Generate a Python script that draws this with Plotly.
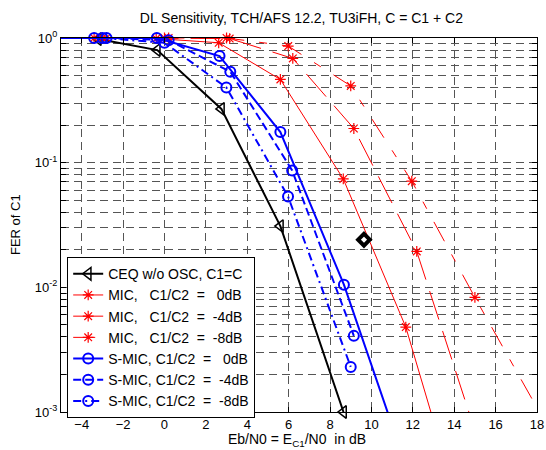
import plotly.graph_objects as go

# CEQ reference curve
ceq_x = [-3.2, -0.35, 2.75, 5.6, 8.65]
ceq_y = [0.98, 0.80, 0.27, 0.031, 0.001]

# MIC curves (red)
mic0_x = [-3.4, -0.4, 2.62, 5.6, 8.64, 11.66, 14.65]
mic0_y = [1.0, 0.99, 0.916, 0.465, 0.074, 0.0048, 0.0001]
mic4_x = [-2.8, 0.2, 3.15, 6.2, 9.15, 12.19, 15.2]
mic4_y = [1.0, 1.0, 0.99, 0.686, 0.188, 0.0194, 0.00056]
mic8_x = [-3.0, 0.0, 3.0, 5.98, 9.0, 11.95, 15.0, 18.03]
mic8_y = [1.0, 1.0, 1.0, 0.862, 0.413, 0.071, 0.0083, 0.00106]

# S-MIC curves (blue)
smic0_x = [-6.4, -3.4, -0.37, 2.66, 5.6, 8.67, 11.67]
smic0_y = [1.0, 1.0, 1.0, 0.716, 0.176, 0.0105, 0.00037]
smic4_x = [-2.8, 0.2, 3.18, 6.17, 9.15]
smic4_y = [1.0, 0.96, 0.536, 0.0867, 0.00408]
smic8_x = [-3.0, 0.0, 2.99, 5.97, 9.0]
smic8_y = [1.0, 0.916, 0.401, 0.0536, 0.0023]

# single reference point
diam_x = [9.64]
diam_y = [0.0241]

x_ticks = [-4, -2, 0, 2, 4, 6, 8, 10, 12, 14, 16, 18]
y_ticks = [m * 10.0 ** e for e in (-3, -2, -1) for m in range(1, 10)] + [1.0]
y_labels = {0.001: "10<sup>-3</sup>", 0.01: "10<sup>-2</sup>",
            0.1: "10<sup>-1</sup>", 1.0: "10<sup>0</sup>"}
y_text = [y_labels.get(v, "") for v in y_ticks]


def nb(s):
    return s.replace(" ", "\u00a0")


FONT = "Arial, Liberation Sans, sans-serif"
RED = "#ff0000"
BLUE = "#0000ff"

fig = go.Figure()

fig.add_trace(go.Scatter(
    x=ceq_x, y=ceq_y, name=nb("CEQ w/o OSC, C1=C"), mode="lines+markers",
    line=dict(color="black", width=2),
    marker=dict(symbol="triangle-left-open", size=11, color="black", line=dict(width=1.5)),
    cliponaxis=False))

for xs, ys, nm, dash in [(mic0_x, mic0_y, "MIC,   C1/C2  =   0dB", "solid"),
                         (mic4_x, mic4_y, "MIC,   C1/C2  =  -4dB", "30px,12px"),
                         (mic8_x, mic8_y, "MIC,   C1/C2  =  -8dB", "22px,15px,8px,15px")]:
    fig.add_trace(go.Scatter(
        x=xs, y=ys, name=nb(nm), mode="lines+markers",
        line=dict(color=RED, width=1, dash=dash),
        marker=dict(symbol="asterisk-open", size=9, color=RED, line=dict(color=RED, width=1.2)),
        cliponaxis=False))

for xs, ys, nm, dash in [(smic0_x, smic0_y, "S-MIC, C1/C2  =   0dB", "solid"),
                         (smic4_x, smic4_y, "S-MIC, C1/C2  =  -4dB", "8px,4px"),
                         (smic8_x, smic8_y, "S-MIC, C1/C2  =  -8dB", "8px,4px,2px,4px")]:
    fig.add_trace(go.Scatter(
        x=xs, y=ys, name=nb(nm), mode="lines+markers",
        line=dict(color=BLUE, width=2, dash=dash),
        marker=dict(symbol="circle-open", size=10, color=BLUE, line=dict(color=BLUE, width=2)),
        cliponaxis=False))

fig.add_trace(go.Scatter(
    x=diam_x, y=diam_y, mode="markers", showlegend=False,
    marker=dict(symbol="diamond-open", size=9, color="black", line=dict(color="black", width=4))))

axis_common = dict(
    showline=True, linecolor="black", linewidth=1, mirror="ticks",
    ticks="inside", ticklen=5, tickcolor="black", automargin=False,
    showgrid=True, gridcolor="#555555", gridwidth=1, griddash="8px,5px",
    zeroline=False, tickfont=dict(family=FONT, size=13, color="black"),
)

fig.update_xaxes(range=[-5, 18], tickvals=x_ticks, **axis_common)
fig.update_yaxes(type="log", range=[-3, 0], tickvals=y_ticks, ticktext=y_text, **axis_common)

fig.update_layout(
    width=546, height=450,
    margin=dict(l=61, r=9, t=38, b=38),
    paper_bgcolor="white", plot_bgcolor="white",
    font=dict(family=FONT, size=13, color="black"),
    title=dict(text="DL Sensitivity, TCH/AFS 12.2, TU3iFH, C = C1 + C2",
               x=0.552, xanchor="center", y=1 - 18 / 450, yanchor="middle",
               font=dict(family=FONT, size=14, color="black")),
    legend=dict(x=0.013, y=0.414, xanchor="left", yanchor="top",
                bgcolor="white", bordercolor="black", borderwidth=1,
                font=dict(family=FONT, size=14, color="black"),
                tracegroupgap=0),
)
fig.add_annotation(text="Eb/N0 = E<sub>C1</sub>/N0  in dB", x=0.496, y=-(440 - 412) / 374,
                   xref="paper", yref="paper", showarrow=False,
                   xanchor="center", yanchor="middle",
                   font=dict(family=FONT, size=14, color="black"))
fig.add_annotation(text="FER of C1", x=-(61 - 15) / 476, y=0.5, xref="paper", yref="paper",
                   showarrow=False, textangle=-90, xanchor="center", yanchor="middle",
                   font=dict(family=FONT, size=13, color="black"))

# drop the default body margin so the figure fills the window exactly
fig.write_html("out.html", config={"displayModeBar": False},
               post_script="document.body.style.margin='0px';")
